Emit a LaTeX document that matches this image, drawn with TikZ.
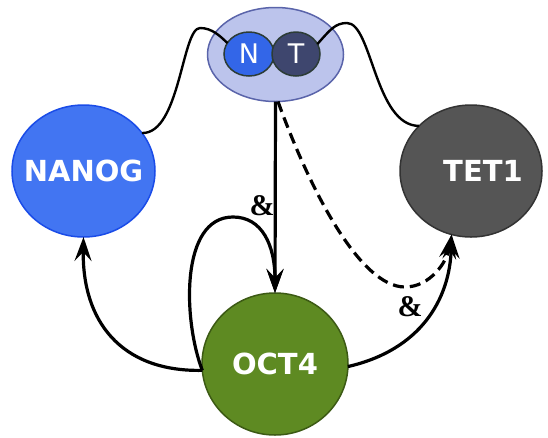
\documentclass[tikz,border=0pt]{standalone}
\usepackage{fontspec}
\newfontfamily\djv{DejaVu Sans}
\newfontfamily\ampf{Liberation Serif}
\usetikzlibrary{shapes.geometric,arrows.meta}
\definecolor{nanogfill}{HTML}{4275F2}
\definecolor{nanogdraw}{HTML}{1A4CE8}
\definecolor{tetfill}{HTML}{555555}
\definecolor{tetdraw}{HTML}{333333}
\definecolor{octfill}{HTML}{5E8A22}
\definecolor{octdraw}{HTML}{3C5A14}
\definecolor{topfill}{HTML}{BCC4EC}
\definecolor{topdraw}{HTML}{5A64AA}
\definecolor{nfill}{HTML}{3366E8}
\definecolor{tfill}{HTML}{3E466E}
\definecolor{ntdraw}{HTML}{2C3C36}
\begin{document}
\begin{tikzpicture}[x=1pt,y=-1pt,
  gene/.style={ellipse, inner sep=0pt, outer sep=0pt, line width=1.5pt, text=white,
    font=\djv\bfseries\fontsize{29}{29}\selectfont},
  small/.style={ellipse, inner sep=0pt, outer sep=0pt, line width=1.5pt, draw=ntdraw, text=white,
    font=\djv\fontsize{27}{27}\selectfont},
  wire/.style={line width=2.4pt, black},
  link/.style={line width=3.2pt, black, -{Stealth[length=24pt,width=17pt,inset=9pt]}},
  amp/.style={font=\ampf\bfseries\fontsize{30}{30}\selectfont}]
\useasboundingbox (0,0) rectangle (548,437);
\node[gene, fill=nanogfill, draw=nanogdraw, minimum width=143pt, minimum height=132pt] (nanog) at (83.5,171) {\makebox[0pt]{NANOG}};
\node[gene, fill=tetfill, draw=tetdraw, minimum width=142pt, minimum height=132pt] (tet) at (471,171) {\makebox[0pt]{\hspace*{24pt}TET1}};
\node[gene, fill=octfill, draw=octdraw, minimum width=146pt, minimum height=142pt] (oct) at (275,364) {\makebox[0pt]{OCT4}};
\node[ellipse, inner sep=0pt, outer sep=0pt, line width=1.5pt, fill=topfill, draw=topdraw, minimum width=136pt, minimum height=94pt] (top) at (275.5,54.5) {};
\node[small, fill=nfill, minimum width=50pt, minimum height=44pt] (n) at (249,54) {\makebox[0pt]{N}};
\node[small, fill=tfill, minimum width=48pt, minimum height=44pt] (t) at (296,54) {\makebox[0pt]{T}};
% wiggles
\draw[wire] (nanog.33) .. controls (180,134) and (182,28) .. (200,28)
  .. controls (212,28) and (220,36) .. (n.153);
\draw[wire] (t.25) .. controls (330,30) and (335,23) .. (347,23)
  .. controls (372,23) and (375,126) .. (tet.139);
% arrows
\draw[link] (top.south) -- (oct.north);
\draw[link] (oct.185) .. controls (183,320) and (180,217) .. (233,217)
  .. controls (262,217) and (275,245) .. (oct.north);
\draw[link] (oct.185) .. controls (120,372) and (82,320) .. (nanog.south);
\draw[link] (oct.-2) .. controls (420,350) and (450,300) .. (tet.253);
\draw[link, dash pattern=on 11pt off 6pt] (top.-87) .. controls (310,190) and (360,287) .. (405,287)
  .. controls (430,287) and (447,262) .. (tet.253);
\node[amp] (amp1) at (262,206) {\&};
\node[amp] (amp2) at (410,307) {\&};
\end{tikzpicture}
\end{document}
